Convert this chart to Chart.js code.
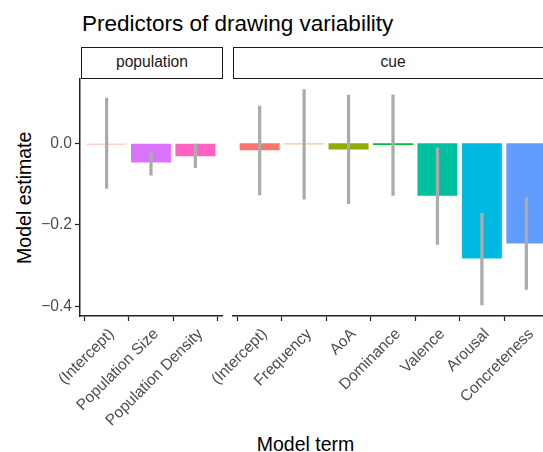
<!DOCTYPE html>
<html>
<head>
<meta charset="utf-8">
<script src="https://cdn.jsdelivr.net/npm/chart.js@4.4.1/dist/chart.umd.min.js"></script>
<style>
  body { margin: 0; width: 543px; height: 452px; position: relative; overflow: hidden; background: #fff;
         font-family: 'Liberation Sans', Arial, sans-serif; }
  canvas { position: absolute; top: 0; }
  .txt { position: absolute; white-space: nowrap; }
  .strip { position: absolute; box-sizing: border-box; border: 1.5px solid #1a1a1a; background: #fff;
           color: #1a1a1a; font-size: 15.6px; text-align: center; line-height: 28px; }
</style>
</head>
<body>
<div class="txt" style="left:82px; top:12.5px; font-size:22.5px; line-height:22.5px; color:#000;">Predictors of drawing variability</div>
<div class="strip" style="left:81px; top:47px; width:142px; height:31.5px;">population</div>
<div class="strip" style="left:233px; top:47px; width:330px; height:31.5px;"><span style="position:relative; left:-5px">cue</span></div>
<div class="txt" style="left:-95.3px; top:187.75px; width:240px; height:19.5px; font-size:19.5px; line-height:19.5px; text-align:center; transform:rotate(-90deg); color:#000;">Model estimate</div>
<div class="txt" style="left:205.5px; top:434.5px; width:200px; font-size:19.5px; line-height:19.5px; text-align:center; color:#000;">Model term</div>

<canvas id="popChart" width="225" height="452" style="left:0px"></canvas>
<canvas id="cueChart" width="432" height="452" style="left:130px"></canvas>

<script>
// population panel
const popTerms = ['(Intercept)', 'Population Size', 'Population Density'];
const popEst = [-0.0028, -0.047, -0.032];
const popLo = [-0.111, -0.078, -0.060];
const popHi = [0.111, -0.020, -0.002];
const popColors = ['#F9A49D', '#DB72FB', '#FF61C3'];

// cue panel
const cueTerms = ['(Intercept)', 'Frequency', 'AoA', 'Dominance', 'Valence', 'Arousal', 'Concreteness'];
const cueEst = [-0.017, -0.0028, -0.015, -0.004, -0.129, -0.283, -0.246];
const cueLo = [-0.127, -0.137, -0.148, -0.128, -0.248, -0.397, -0.359];
const cueHi = [0.091, 0.132, 0.118, 0.119, -0.011, -0.172, -0.133];
const cueColors = ['#F8766D', '#EAC8A6', '#93AA00', '#00BA38', '#00C19F', '#00B9E3', '#619CFF'];

const yTicks = [-0.4, -0.2, 0.0];
const yMin = -0.424, yMax = 0.159;

const font = 'Liberation Sans';
const axisColor = '#222';
const errColor = '#ABABAB';

function makeChart(id, terms, est, lo, hi, colors, showY, padLeft, padRight) {
  const ctx = document.getElementById(id).getContext('2d');
  return new Chart(ctx, {
    type: 'bar',
    data: {
      datasets: [{
        // error bars (drawn on top)
        data: lo.map((l, i) => ({x: i, y: [l, hi[i]]})),
        backgroundColor: errColor,
        barThickness: 2.6,
        grouped: false,
        order: 0
      }, {
        data: est.map((v, i) => ({x: i, y: v})),
        backgroundColor: colors,
        categoryPercentage: 1,
        barPercentage: 0.9,
        grouped: false,
        order: 1
      }]
    },
    options: {
      responsive: false,
      animation: false,
      layout: { padding: { left: padLeft, top: 78.5, right: padRight, bottom: 0 } },
      plugins: { legend: { display: false }, tooltip: { enabled: false } },
      scales: {
        x: {
          type: 'linear',
          min: -0.6,
          max: terms.length - 1 + 0.6,
          offset: false,
          afterBuildTicks: (scale) => { scale.ticks = terms.map((_, i) => ({value: i})); },
          afterFit: (scale) => { scale.height = 452 - 316; scale.paddingLeft = 0; scale.paddingRight = 0; },
          border: { display: true, color: axisColor, width: 1.5 },
          grid: { drawOnChartArea: false, drawTicks: true, tickLength: 5, tickColor: axisColor, tickWidth: 1.2 },
          ticks: {
            autoSkip: false, maxRotation: 45, minRotation: 45, padding: 4, labelOffset: 5,
            color: '#4D4D4D', font: { family: font, size: 15.6 },
            callback: (v) => terms[v]
          }
        },
        y: {
          display: showY,
          min: yMin,
          max: yMax,
          afterBuildTicks: (scale) => { scale.ticks = yTicks.map(v => ({value: v})); },
          afterFit: (scale) => { if (showY) scale.width = 80; },
          border: { display: true, color: axisColor, width: 1.5 },
          grid: { drawOnChartArea: false, drawTicks: true, tickLength: 5, tickColor: axisColor, tickWidth: 1.2 },
          ticks: {
            padding: 3, color: '#4D4D4D', font: { family: font, size: 15.6 },
            callback: (v) => v === 0 ? '0.0' : '\u2212' + Math.abs(v).toFixed(1)
          }
        }
      }
    }
  });
}

makeChart('popChart', popTerms, popEst, popLo, popHi, popColors, true, 0, 3);
makeChart('cueChart', cueTerms, cueEst, cueLo, cueHi, cueColors, false, 103, 9);
</script>
</body>
</html>
